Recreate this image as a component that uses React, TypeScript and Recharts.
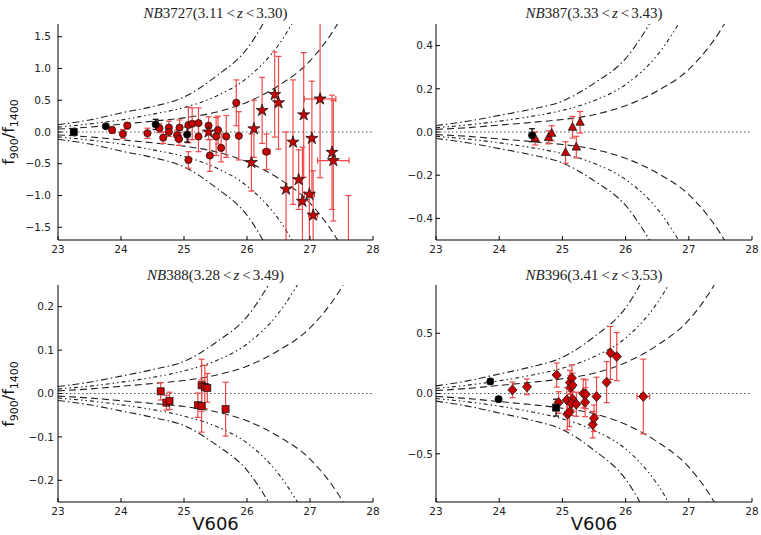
import React from "react"
import {
	ComposedChart,
	Line,
	Scatter,
	XAxis,
	YAxis,
	ErrorBar,
	ReferenceLine,
	Symbols,
} from "recharts"

// shared x grid for the model curves (V606 magnitude)
const magTicks = [23, 24, 25, 26, 27, 28]
const curveMags = [23, 23.5, 24, 24.5, 25, 25.5, 26, 26.5, 27, 27.5, 28]

// --- NB3727 (3.11 < z < 3.30)
const nb3727YTicks = [-1.5, -1, -0.5, 0, 0.5, 1, 1.5]
const nb3727DashDot = [0.115, 0.19, 0.3, 0.4, 0.55, 0.87, 1.31, 2.16]
const nb3727DashDotDot = [0.077, 0.127, 0.19, 0.28, 0.385, 0.56, 0.85, 1.37, 2.23]
const nb3727Dashed = [0.046, 0.077, 0.123, 0.17, 0.223, 0.31, 0.47, 0.73, 1.12, 1.81, 2.9]
const nb3727BlackSquares = [{ x: 23.25, y: 0.0, ey: 0.03 }]
const nb3727BlackCircles = [
	{ x: 23.76, y: 0.09, ey: 0.03 },
	{ x: 24.55, y: 0.12, ey: 0.08 },
	{ x: 25.05, y: -0.04, ey: 0.12 },
]
const nb3727Circles = [
	{ x: 23.86, y: 0.03, ey: 0.05 },
	{ x: 24.03, y: -0.03, ey: 0.07 },
	{ x: 24.1, y: 0.1, ey: 0.05 },
	{ x: 24.42, y: -0.02, ey: 0.08 },
	{ x: 24.61, y: 0.06, ey: 0.07 },
	{ x: 24.67, y: -0.09, ey: 0.09 },
	{ x: 24.76, y: 0.07, ey: 0.1 },
	{ x: 24.76, y: 0.0, ey: 0.07 },
	{ x: 24.89, y: -0.05, ey: 0.08 },
	{ x: 24.92, y: -0.11, ey: 0.1 },
	{ x: 24.93, y: 0.07, ey: 0.12 },
	{ x: 25.07, y: -0.44, ey: 0.13 },
	{ x: 25.07, y: 0.11, ey: 0.28 },
	{ x: 25.13, y: 0.13, ey: 0.25 },
	{ x: 25.23, y: -0.07, ey: 0.24 },
	{ x: 25.23, y: 0.14, ey: 0.24 },
	{ x: 25.39, y: 0.1, ey: 0.14 },
	{ x: 25.41, y: -0.37, ey: 0.25 },
	{ x: 25.51, y: -0.07, ey: 0.3 },
	{ x: 25.54, y: 0.03, ey: 0.22 },
	{ x: 25.59, y: -0.25, ey: 0.22 },
	{ x: 25.67, y: -0.07, ey: 0.33 },
	{ x: 25.83, y: 0.46, ey: 0.36 },
	{ x: 25.87, y: -0.06, ey: 0.38 },
]
const nb3727CirclesX = [{ x: 26.31, y: -0.31, ey: 0.28, ex: 0.06 }]
const nb3727Stars = [
	{ x: 25.39, y: 0.0, ey: 0.12 },
	{ x: 26.07, y: -0.48, ey: 0.45 },
	{ x: 26.11, y: 0.05, ey: 0.45 },
	{ x: 26.24, y: 0.34, ey: 0.52 },
	{ x: 26.44, y: 0.59, ey: 0.67 },
	{ x: 26.5, y: 0.46, ey: 0.73 },
	{ x: 26.62, y: -0.9, ey: 0.9 },
	{ x: 26.73, y: -0.16, ey: 0.98 },
	{ x: 26.82, y: -0.75, ey: 0.47 },
	{ x: 26.88, y: -1.09, ey: 0.85 },
	{ x: 26.9, y: 0.27, ey: 0.98 },
	{ x: 27.03, y: -0.1, ey: 0.9 },
	{ x: 27.35, y: -0.32, ey: 0.9 },
]
const nb3727StarsX = [
	{ x: 26.99, y: -0.98, ey: 0.9, ex: 0.08 },
	{ x: 27.05, y: -1.31, ey: 0.7, ex: 0.07 },
	{ x: 27.16, y: 0.52, ey: 1.24, ex: 0.25 },
	{ x: 27.37, y: -0.45, ey: 0.95, ex: 0.25 },
]
const nb3727Offscale = [{ x: 27.61, y: -2.2, ey: 1.2 }]

// --- NB387 (3.33 < z < 3.43)
const nb387YTicks = [-0.4, -0.2, 0, 0.2, 0.4]
const nb387DashDot = [0.03, 0.05, 0.077, 0.105, 0.143, 0.225, 0.34, 0.56]
const nb387DashDotDot = [0.02, 0.033, 0.05, 0.072, 0.1, 0.145, 0.22, 0.355, 0.58]
const nb387Dashed = [0.012, 0.02, 0.032, 0.044, 0.058, 0.08, 0.122, 0.19, 0.29, 0.47, 0.75]
const nb387BlackCircles = [{ x: 24.52, y: -0.015, ey: 0.03 }]
const nb387Triangles = [
	{ x: 24.57, y: -0.03, ey: 0.03 },
	{ x: 24.78, y: -0.025, ey: 0.03 },
	{ x: 24.83, y: -0.006, ey: 0.035 },
	{ x: 25.05, y: -0.095, ey: 0.05 },
	{ x: 25.16, y: 0.022, ey: 0.05 },
	{ x: 25.22, y: -0.07, ey: 0.05 },
	{ x: 25.28, y: 0.045, ey: 0.05 },
]

// --- NB388 (3.28 < z < 3.49)
const nb388YTicks = [-0.2, -0.1, 0, 0.1, 0.2]
const nb388DashDot = [0.016, 0.026, 0.04, 0.055, 0.074, 0.117, 0.177, 0.29]
const nb388DashDotDot = [0.0104, 0.017, 0.026, 0.037, 0.052, 0.075, 0.114, 0.185, 0.3]
const nb388Dashed = [0.006, 0.0104, 0.0166, 0.023, 0.03, 0.042, 0.063, 0.099, 0.151, 0.244, 0.39]
const nb388Squares = [
	{ x: 24.63, y: 0.005, ey: 0.02 },
	{ x: 24.72, y: -0.021, ey: 0.017 },
	{ x: 24.77, y: -0.017, ey: 0.02 },
	{ x: 25.22, y: -0.027, ey: 0.028 },
	{ x: 25.28, y: 0.019, ey: 0.06 },
	{ x: 25.28, y: -0.029, ey: 0.06 },
	{ x: 25.33, y: 0.015, ey: 0.05 },
	{ x: 25.37, y: 0.013, ey: 0.033 },
	{ x: 25.66, y: -0.036, ey: 0.062 },
]

// --- NB396 (3.41 < z < 3.53)
const nb396YTicks = [-0.5, 0, 0.5]
const nb396DashDot = [0.063, 0.105, 0.162, 0.22, 0.3, 0.47, 0.71, 1.18]
const nb396DashDotDot = [0.042, 0.069, 0.105, 0.151, 0.21, 0.305, 0.46, 0.75, 1.22]
const nb396Dashed = [0.025, 0.042, 0.067, 0.092, 0.122, 0.168, 0.256, 0.4, 0.61, 0.99, 1.58]
const nb396BlackCircles = [
	{ x: 23.86, y: 0.1, ey: 0.02 },
	{ x: 23.99, y: -0.047, ey: 0.02 },
]
const nb396BlackSquares = [{ x: 24.9, y: -0.117, ey: 0.07 }]
const nb396Diamonds = [
	{ x: 24.21, y: 0.03, ey: 0.065 },
	{ x: 24.44, y: 0.055, ey: 0.065 },
	{ x: 24.91, y: 0.153, ey: 0.1 },
	{ x: 24.94, y: -0.075, ey: 0.09 },
	{ x: 25.07, y: -0.053, ey: 0.1 },
	{ x: 25.08, y: -0.172, ey: 0.13 },
	{ x: 25.11, y: -0.155, ey: 0.12 },
	{ x: 25.12, y: 0.092, ey: 0.1 },
	{ x: 25.13, y: 0.05, ey: 0.1 },
	{ x: 25.15, y: 0.128, ey: 0.11 },
	{ x: 25.16, y: 0.069, ey: 0.1 },
	{ x: 25.16, y: -0.047, ey: 0.1 },
	{ x: 25.14, y: -0.083, ey: 0.1 },
	{ x: 25.22, y: -0.089, ey: 0.1 },
	{ x: 25.33, y: 0.0, ey: 0.12 },
	{ x: 25.36, y: -0.072, ey: 0.12 },
	{ x: 25.37, y: -0.006, ey: 0.12 },
	{ x: 25.48, y: -0.258, ey: 0.11 },
	{ x: 25.5, y: -0.205, ey: 0.11 },
	{ x: 25.54, y: -0.025, ey: 0.16 },
	{ x: 25.7, y: 0.094, ey: 0.17 },
	{ x: 25.76, y: 0.336, ey: 0.22 },
	{ x: 25.86, y: 0.306, ey: 0.2 },
]
const nb396DiamondsX = [{ x: 26.28, y: -0.025, ey: 0.31, ex: 0.1 }]

const RED = "#c80000"
const EDGE = "#1a1a1a"
const ERR_RED = "#f04848"
const TICK_FONT = "DejaVu Sans, sans-serif"

const circle = (fill: string) => (p: any) => (
	<circle cx={p.cx} cy={p.cy} r={3.6} fill={fill} stroke={EDGE} strokeWidth={0.8} />
)
const square = (fill: string) => (p: any) => (
	<rect x={p.cx - 3.5} y={p.cy - 3.5} width={7} height={7} fill={fill} stroke={EDGE} strokeWidth={0.8} />
)
const triangle = (p: any) => (
	<polygon
		points={`${p.cx},${p.cy - 4.8} ${p.cx - 4.2},${p.cy + 3} ${p.cx + 4.2},${p.cy + 3}`}
		fill={RED}
		stroke={EDGE}
		strokeWidth={0.8}
	/>
)
const diamond = (p: any) => (
	<polygon
		points={`${p.cx},${p.cy - 5} ${p.cx + 4.6},${p.cy} ${p.cx},${p.cy + 5} ${p.cx - 4.6},${p.cy}`}
		fill={RED}
		stroke={EDGE}
		strokeWidth={0.8}
	/>
)
const star = (p: any) => (
	<Symbols cx={p.cx} cy={p.cy} type="star" size={46} fill={RED} stroke={EDGE} strokeWidth={0.8} />
)
const nothing = () => <g />

const toCurve = (vals: number[], sign: number) =>
	vals.map((v, i) => ({ x: curveMags[i], y: sign * v }))

const fmt = (v: number) => (v < 0 ? "\u2212" : "") + Math.abs(v).toFixed(1)

const panels = [
	{
		key: "nb3727",
		band: "3727",
		zLo: "3.11",
		zHi: "3.30",
		left: 0,
		top: 0,
		width: 380,
		height: 265,
		margin: { top: 24, right: 7, bottom: 5, left: 18 },
		xAxisHeight: 20,
		yGap: 7,
		titleTop: 6,
		yDomain: [-1.7, 1.7],
		yTicks: nb3727YTicks,
		curves: [nb3727DashDot, nb3727DashDotDot, nb3727Dashed],
		yLabel: true,
		xLabel: false,
		series: [
			{ data: nb3727Offscale, shape: nothing, err: ERR_RED },
			{ data: nb3727Circles, shape: circle(RED), err: ERR_RED },
			{ data: nb3727CirclesX, shape: circle(RED), err: ERR_RED, ex: true },
			{ data: nb3727Stars, shape: star, err: ERR_RED },
			{ data: nb3727StarsX, shape: star, err: ERR_RED, ex: true },
			{ data: nb3727BlackSquares, shape: square("#000"), err: "#000" },
			{ data: nb3727BlackCircles, shape: circle("#000"), err: "#000" },
		],
	},
	{
		key: "nb387",
		band: "387",
		zLo: "3.33",
		zHi: "3.43",
		left: 380,
		top: 0,
		width: 381,
		height: 265,
		margin: { top: 24, right: 9, bottom: 5, left: 16 },
		xAxisHeight: 20,
		yGap: 3,
		titleTop: 6,
		yDomain: [-0.5, 0.5],
		yTicks: nb387YTicks,
		curves: [nb387DashDot, nb387DashDotDot, nb387Dashed],
		yLabel: false,
		xLabel: false,
		series: [
			{ data: nb387Triangles, shape: triangle, err: ERR_RED },
			{ data: nb387BlackCircles, shape: circle("#000"), err: "#000" },
		],
	},
	{
		key: "nb388",
		band: "388",
		zLo: "3.28",
		zHi: "3.49",
		left: 0,
		top: 265,
		width: 380,
		height: 270,
		margin: { top: 20, right: 7, bottom: 0, left: 18 },
		xAxisHeight: 33,
		yGap: 4,
		titleTop: 3,
		yDomain: [-0.25, 0.25],
		yTicks: nb388YTicks,
		curves: [nb388DashDot, nb388DashDotDot, nb388Dashed],
		yLabel: true,
		xLabel: true,
		series: [{ data: nb388Squares, shape: square(RED), err: ERR_RED }],
	},
	{
		key: "nb396",
		band: "396",
		zLo: "3.41",
		zHi: "3.53",
		left: 380,
		top: 265,
		width: 381,
		height: 270,
		margin: { top: 20, right: 9, bottom: 0, left: 16 },
		xAxisHeight: 33,
		yGap: 3,
		titleTop: 3,
		yDomain: [-0.9, 0.9],
		yTicks: nb396YTicks,
		curves: [nb396DashDot, nb396DashDotDot, nb396Dashed],
		yLabel: false,
		xLabel: true,
		series: [
			{ data: nb396Diamonds, shape: diamond, err: ERR_RED },
			{ data: nb396DiamondsX, shape: diamond, err: ERR_RED, ex: true },
			{ data: nb396BlackCircles, shape: circle("#000"), err: "#000" },
			{ data: nb396BlackSquares, shape: square("#000"), err: "#000" },
		],
	},
]

const curveDash = ["7 3 1.5 3", "4 3 1.5 3 1.5 3", "7 4"]
const Y_AXIS_W = 40

const Panel = ({ p }: { p: (typeof panels)[number] }) => {
	const plotLeft = p.margin.left + Y_AXIS_W
	const plotWidth = p.width - plotLeft - p.margin.right
	const plotTop = p.margin.top
	const plotHeight = p.height - p.margin.top - p.margin.bottom - p.xAxisHeight
	const tickStyle = { fontSize: 10.5, fill: "#222", fontFamily: TICK_FONT }
	const clipId = `plotclip-${p.key}`
	const scope = `#panel-${p.key}`
	// long error bars run past the frame; clip them (and the off-scale marker) to the plot box
	const clipCss = `${scope} .recharts-errorBar, ${scope} .recharts-errorBars, ${scope} .recharts-scatter { clip-path: url(#${clipId}); }`
	return (
		<div
			id={`panel-${p.key}`}
			style={{ position: "absolute", left: p.left, top: p.top, width: p.width, height: p.height }}
		>
			<style>{clipCss}</style>
			<ComposedChart width={p.width} height={p.height} margin={p.margin}>
				<defs>
					<clipPath id={clipId} clipPathUnits="userSpaceOnUse">
						<rect x={plotLeft} y={plotTop} width={plotWidth} height={plotHeight} />
					</clipPath>
				</defs>
				<XAxis
					type="number"
					dataKey="x"
					domain={[23, 28]}
					ticks={magTicks}
					interval={0}
					allowDataOverflow
					height={p.xAxisHeight}
					tickSize={-4}
					tickMargin={10}
					tick={tickStyle}
					axisLine={{ stroke: "#000" }}
					tickLine={{ stroke: "#000" }}
				/>
				<XAxis
					xAxisId="top"
					orientation="top"
					type="number"
					domain={[23, 28]}
					ticks={magTicks}
					interval={0}
					height={0}
					tickSize={-4}
					tick={false}
					axisLine={{ stroke: "#000" }}
					tickLine={{ stroke: "#000" }}
				/>
				<YAxis
					type="number"
					dataKey="y"
					domain={p.yDomain}
					ticks={p.yTicks}
					interval={0}
					allowDataOverflow
					width={Y_AXIS_W}
					tickSize={-4}
					tickMargin={p.yGap + 4}
					tickFormatter={fmt}
					tick={tickStyle}
					axisLine={{ stroke: "#000" }}
					tickLine={{ stroke: "#000" }}
				/>
				<YAxis
					yAxisId="right"
					orientation="right"
					type="number"
					domain={p.yDomain}
					ticks={p.yTicks}
					interval={0}
					width={0}
					tickSize={-4}
					tick={false}
					axisLine={{ stroke: "#000" }}
					tickLine={{ stroke: "#000" }}
				/>
				<ReferenceLine y={0} stroke="#555" strokeDasharray="1.5 2.5" />
				{p.curves.map((vals, ci) =>
					[1, -1].map((sign) => (
						<Line
							key={`${ci}-${sign}`}
							data={toCurve(vals, sign)}
							dataKey="y"
							type="monotone"
							stroke="#222"
							strokeWidth={1.1}
							strokeDasharray={curveDash[ci]}
							dot={false}
							activeDot={false}
							isAnimationActive={false}
						/>
					))
				)}
				{p.series.map((s, si) => (
					<Scatter key={si} data={s.data} shape={s.shape} isAnimationActive={false}>
						<ErrorBar
							dataKey="ey"
							direction="y"
							width={3}
							stroke={s.err}
							strokeWidth={1.2}
							clipPath={`url(#${clipId})`}
						/>
						{s.ex && (
							<ErrorBar
								dataKey="ex"
								direction="x"
								width={3}
								stroke={s.err}
								strokeWidth={1.2}
								clipPath={`url(#${clipId})`}
							/>
						)}
					</Scatter>
				))}
			</ComposedChart>
			<div
				style={{
					position: "absolute",
					left: plotLeft,
					width: plotWidth,
					top: p.titleTop,
					textAlign: "center",
					fontFamily: "Liberation Serif, serif",
					fontSize: 15,
					lineHeight: "15px",
					color: "#222",
					whiteSpace: "nowrap",
				}}
			>
				<i>NB</i>
				{p.band}({p.zLo}
				<span style={{ margin: "0 2px 0 3px" }}>&lt;</span>
				<i>z</i>
				<span style={{ margin: "0 2px 0 3px" }}>&lt;</span>
				{p.zHi})
			</div>
			{p.yLabel && (
				<div
					style={{
						position: "absolute",
						left: 12,
						top: plotTop + plotHeight / 2,
						transform: "translate(-50%, -50%) rotate(-90deg)",
						fontFamily: TICK_FONT,
						fontSize: 16,
						lineHeight: "16px",
						color: "#111",
						whiteSpace: "nowrap",
					}}
				>
					f<sub style={{ fontSize: 11 }}>900</sub>/f<sub style={{ fontSize: 11 }}>1400</sub>
				</div>
			)}
			{p.xLabel && (
				<div
					style={{
						position: "absolute",
						left: plotLeft,
						width: plotWidth,
						top: p.height - 20,
						textAlign: "center",
						fontFamily: TICK_FONT,
						fontSize: 18,
						lineHeight: "18px",
						color: "#111",
					}}
				>
					V606
				</div>
			)}
		</div>
	)
}

const App = () => (
	<div
		style={{
			position: "absolute",
			left: 0,
			top: 0,
			width: 761,
			height: 535,
			background: "#fff",
			overflow: "hidden",
		}}
	>
		{panels.map((p) => (
			<Panel key={p.key} p={p} />
		))}
	</div>
)

export default App
